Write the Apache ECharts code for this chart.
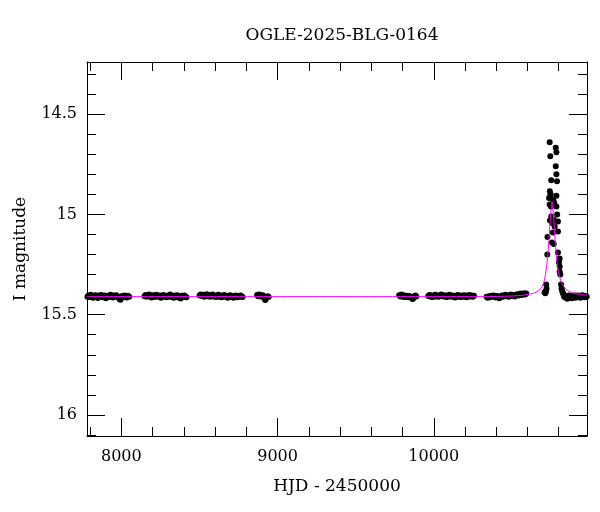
<!DOCTYPE html>
<html><head><meta charset="utf-8">
<script src="https://cdn.jsdelivr.net/npm/echarts@6/dist/echarts.min.js"></script>
<style>html,body{margin:0;padding:0;background:#fff}#c{width:600px;height:512px}</style>
</head><body><div id="c"></div>
<script>
const titleText = 'OGLE-2025-BLG-0164';
const xName = 'HJD - 2450000';
const yName = 'I magnitude';
const xRange = [7780, 10981];
const yRange = [14.24, 16.105];

const season1 = [[7783,15.410],[7790,15.404],[7797,15.412],[7805,15.401],[7812,15.408],[7819,15.415],[7827,15.406],[7834,15.403],[7842,15.411],[7849,15.417],[7857,15.405],[7864,15.409],[7871,15.402],[7879,15.413],[7886,15.407],[7894,15.404],[7901,15.418],[7909,15.410],[7916,15.406],[7923,15.412],[7931,15.401],[7938,15.408],[7946,15.414],[7953,15.405],[7961,15.411],[7968,15.403],[7975,15.409],[7983,15.416],[7990,15.423],[7994,15.426],[7998,15.415],[8005,15.407],[8013,15.412],[8020,15.404],[8028,15.409],[8035,15.414],[8042,15.406],[8050,15.410]];
const season2 = [[8148,15.408],[8155,15.402],[8163,15.411],[8170,15.405],[8178,15.399],[8185,15.409],[8193,15.414],[8200,15.403],[8208,15.407],[8215,15.412],[8223,15.401],[8230,15.406],[8238,15.410],[8245,15.404],[8253,15.415],[8260,15.408],[8268,15.402],[8275,15.411],[8283,15.406],[8290,15.413],[8298,15.404],[8305,15.409],[8313,15.400],[8320,15.412],[8328,15.407],[8335,15.416],[8343,15.405],[8350,15.410],[8358,15.403],[8365,15.414],[8373,15.408],[8380,15.419],[8388,15.406],[8395,15.411],[8403,15.404],[8410,15.409],[8417,15.413]];
const season3 = [[8501,15.404],[8508,15.399],[8516,15.407],[8523,15.401],[8531,15.410],[8538,15.403],[8546,15.398],[8553,15.408],[8561,15.402],[8568,15.411],[8576,15.405],[8583,15.400],[8591,15.409],[8598,15.404],[8606,15.412],[8613,15.406],[8621,15.401],[8628,15.410],[8636,15.405],[8643,15.413],[8651,15.407],[8658,15.402],[8666,15.411],[8673,15.406],[8681,15.415],[8688,15.408],[8696,15.403],[8703,15.412],[8711,15.407],[8718,15.416],[8726,15.409],[8733,15.404],[8741,15.413],[8748,15.408],[8756,15.411],[8763,15.405],[8771,15.409],[8776,15.412]];
const season4 = [[8869,15.402],[8876,15.408],[8883,15.399],[8890,15.405],[8897,15.411],[8905,15.403],[8912,15.409],[8918,15.420],[8921,15.427],[8924,15.423],[8930,15.413],[8937,15.408],[8943,15.412]];
const season5 = [[9779,15.403],[9786,15.409],[9793,15.400],[9800,15.406],[9807,15.412],[9814,15.404],[9821,15.410],[9829,15.406],[9836,15.413],[9843,15.407],[9850,15.411],[9857,15.416],[9864,15.422],[9868,15.419],[9875,15.410],[9882,15.405],[9888,15.409]];
const season6 = [[9965,15.407],[9972,15.402],[9980,15.410],[9987,15.404],[9995,15.412],[10002,15.406],[10010,15.401],[10017,15.409],[10025,15.404],[10032,15.411],[10040,15.405],[10047,15.400],[10055,15.408],[10062,15.403],[10070,15.410],[10077,15.405],[10085,15.412],[10092,15.406],[10100,15.401],[10107,15.409],[10115,15.404],[10122,15.411],[10130,15.406],[10137,15.414],[10145,15.407],[10152,15.402],[10160,15.410],[10167,15.405],[10175,15.412],[10182,15.407],[10190,15.403],[10197,15.410],[10205,15.405],[10212,15.413],[10220,15.407],[10227,15.402],[10235,15.409],[10242,15.404],[10250,15.410],[10257,15.406]];
const season7 = [[10338,15.410],[10345,15.415],[10353,15.408],[10360,15.413],[10368,15.406],[10375,15.411],[10383,15.404],[10390,15.409],[10398,15.414],[10405,15.407],[10413,15.412],[10420,15.418],[10428,15.409],[10435,15.404],[10443,15.411],[10450,15.406],[10458,15.401],[10465,15.408],[10473,15.403],[10480,15.410],[10488,15.405],[10495,15.400],[10503,15.407],[10510,15.402],[10518,15.409],[10525,15.403],[10533,15.398],[10540,15.405],[10548,15.400],[10555,15.395],[10563,15.402],[10570,15.397],[10578,15.393],[10585,15.399],[10592,15.394]];
const season8 = [[10709,15.388],[10714,15.393],[10718,15.385],[10720,15.350],[10722,15.370],[10727,15.200],[10728,15.113],[10738,14.918],[10742,14.640],[10742,14.950],[10743,14.885],[10744,15.030],[10746,14.710],[10746,14.910],[10748,14.900],[10750,14.960],[10752,14.830],[10752,15.010],[10757,15.140],[10759,15.043],[10763,15.090],[10765,14.930],[10768,15.027],[10768,15.147],[10771,14.943],[10774,15.060],[10781,14.668],[10781,14.760],[10785,14.690],[10785,14.800],[10785,14.907],[10785,14.960],[10789,14.835],[10790,15.000],[10795,15.035],[10795,15.085],[10795,15.190],[10801,15.240],[10806,15.220],[10806,15.260],[10806,15.285],[10810,15.300],[10815,15.350],[10818,15.370],[10822,15.380],[10825,15.390],[10830,15.400],[10835,15.410],[10840,15.405],[10845,15.415],[10850,15.408],[10855,15.420],[10860,15.410],[10866,15.404],[10872,15.414],[10878,15.408],[10884,15.418],[10890,15.409],[10896,15.413],[10902,15.405],[10908,15.416],[10914,15.410],[10920,15.404],[10926,15.412],[10932,15.407],[10938,15.415],[10944,15.409],[10950,15.403],[10956,15.411],[10962,15.406],[10968,15.413],[10974,15.408],[10979,15.411]];

const modelHjd = [7780,10300,10500,10580,10630,10660,10680,10695,10706,10715,10723,10730,10737,10743,10748,10753,10757,10761,10766,10771,10777,10784,10792,10802,10815,10832,10855,10885,10930,10981];
const modelMag = [15.410,15.410,15.407,15.402,15.395,15.386,15.374,15.357,15.335,15.300,15.255,15.200,15.130,15.060,15.000,14.955,14.937,14.955,15.000,15.060,15.130,15.200,15.255,15.300,15.335,15.360,15.378,15.390,15.398,15.403];

const points = [].concat(season1, season2, season3, season4, season5, season6, season7, season8);
const model = modelHjd.map((h, i) => [h, modelMag[i]]);

const FONT = 'DejaVu Serif';
const black = '#000';
function xAx(pos, labels) {
  return {
    type: 'value', position: pos, min: xRange[0], max: xRange[1], splitNumber: 3,
    axisLine: { show: true, onZero: false, lineStyle: { color: black, width: 1 } },
    axisTick: { show: true, inside: true, length: 18, lineStyle: { color: black } },
    minorTick: { show: true, splitNumber: 5, length: 9, lineStyle: { color: black } },
    splitLine: { show: false }, minorSplitLine: { show: false },
    axisLabel: { show: labels, color: black, fontFamily: FONT, fontSize: 16, margin: 13,
      showMinLabel: false, showMaxLabel: false, formatter: v => String(v) },
    name: labels ? xName : '', nameLocation: 'middle', nameGap: 42,
    nameTextStyle: { color: black, fontFamily: FONT, fontSize: 17 }
  };
}
function yAx(pos, labels) {
  return {
    type: 'value', position: pos, inverse: true, min: yRange[0], max: yRange[1], splitNumber: 4,
    axisLine: { show: true, onZero: false, lineStyle: { color: black, width: 1 } },
    axisTick: { show: true, inside: true, length: 18, lineStyle: { color: black } },
    minorTick: { show: true, splitNumber: 5, length: 9, lineStyle: { color: black } },
    splitLine: { show: false }, minorSplitLine: { show: false },
    axisLabel: { show: labels, color: black, fontFamily: FONT, fontSize: 16, margin: 10,
      showMinLabel: false, showMaxLabel: false, formatter: v => String(v) },
    name: labels ? yName : '', nameLocation: 'middle', nameGap: 58,
    nameTextStyle: { color: black, fontFamily: FONT, fontSize: 17 }
  };
}

const chart = echarts.init(document.getElementById('c'), null, { renderer: 'canvas' });
chart.setOption({
  animation: false,
  backgroundColor: '#fff',
  title: { text: titleText, left: 337, top: 22, textAlign: 'center',
    textStyle: { color: black, fontFamily: FONT, fontSize: 17, fontWeight: 'normal' } },
  grid: { left: 87, right: 13, top: 62, bottom: 76, containLabel: false },
  xAxis: [xAx('bottom', true), xAx('top', false)],
  yAxis: [yAx('left', true), yAx('right', false)],
  series: [
    { type: 'scatter', xAxisIndex: 0, yAxisIndex: 0, data: points, symbol: 'circle', symbolSize: 6,
      itemStyle: { color: black, opacity: 1 }, silent: true, z: 2 },
    { type: 'line', xAxisIndex: 0, yAxisIndex: 0, data: model, showSymbol: false, smooth: 0.3,
      lineStyle: { color: '#ff00ff', width: 1 }, silent: true, z: 3 }
  ]
});
</script></body></html>
